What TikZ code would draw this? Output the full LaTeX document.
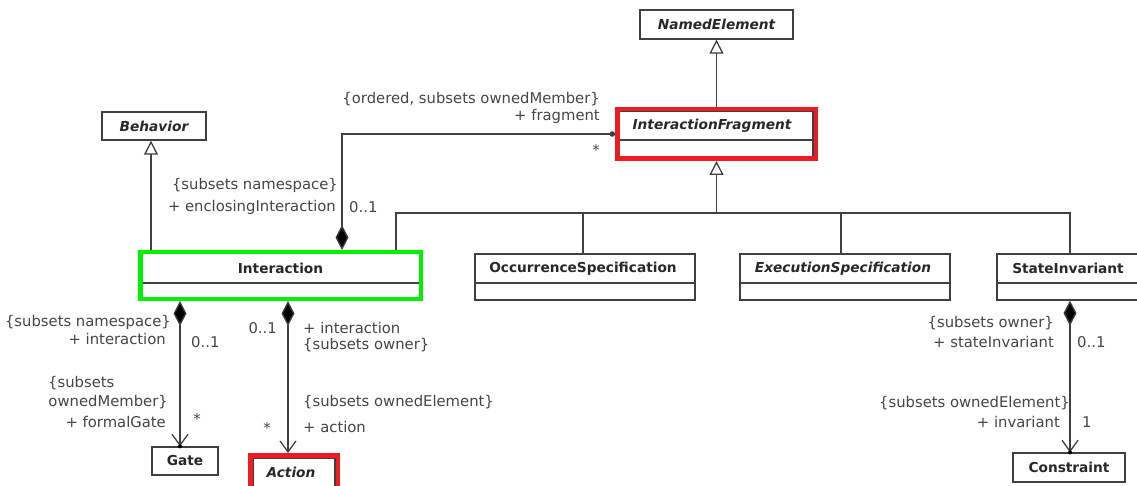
\documentclass[tikz,border=0pt]{standalone}
\usepackage{fontspec}
\setmainfont{DejaVu Sans}
\usetikzlibrary{arrows.meta}
\definecolor{ln}{RGB}{64,64,64}
\definecolor{tx}{RGB}{40,40,40}
\definecolor{lt}{RGB}{70,70,70}
\definecolor{hred}{RGB}{237,28,36}
\definecolor{hgreen}{RGB}{0,240,0}
\tikzset{
  cls/.style={draw=ln, line width=1.3pt, fill=white, inner sep=0pt},
  cname/.style={font=\fontsize{13.7}{16}\selectfont\bfseries, text=tx, inner sep=0pt},
  aname/.style={cname, font=\fontsize{13.7}{16}\selectfont\bfseries\itshape},
  lbl/.style={font=\fontsize{14.8}{17}\selectfont, text=lt, inner sep=0pt},
  conn/.style={draw=ln, line width=1.3pt},
  gen/.style={conn, -{Triangle[open, width=14pt, length=14pt, fill=white]}},
  comp/.style={conn, {Diamond[length=25pt, width=13pt, fill=black]}-{Straight Barb[length=11pt, width=16pt]}},
  hlr/.style={draw=hred, line width=4.5pt, inner sep=0pt},
  hlg/.style={draw=hgreen, line width=4.5pt, inner sep=0pt},
  divd/.style={draw=ln, line width=1.3pt}
}
\begin{document}
\begin{tikzpicture}[x=1pt, y=-1pt]
\useasboundingbox (0,0) rectangle (1137,486);
\fill[white] (0,0) rectangle (1137,486);

% ---- class boxes ----
\node[cls, minimum width=153pt, minimum height=29pt] (named) at (716.5,24.5) {};
\node[aname] (namedn) at (716.5,24.5) {NamedElement};

\node[cls, minimum width=104pt, minimum height=28pt] (beh) at (154,126) {};
\node[aname] (behn) at (154,126) {Behavior};

\node[cls, minimum width=195pt, minimum height=46pt] (ifr) at (715.5,134) {};
\draw[divd] (ifr.west |- 0,140) -- (ifr.east |- 0,140);
\node[aname] (ifrn) at (712,126) {InteractionFragment};

\node[cls, minimum width=279pt, minimum height=45pt] (int) at (280.5,275.5) {};
\draw[divd] (int.west |- 0,283) -- (int.east |- 0,283);
\node[cname] (intn) at (280.5,268) {Interaction};

\node[cls, minimum width=220pt, minimum height=46pt] (occ) at (585,277) {};
\draw[divd] (occ.west |- 0,283) -- (occ.east |- 0,283);
\node[cname] (occn) at (583,268.5) {OccurrenceSpecification};

\node[cls, minimum width=210pt, minimum height=46pt] (exe) at (845,277) {};
\draw[divd] (exe.west |- 0,283) -- (exe.east |- 0,283);
\node[aname] (exen) at (843,268.5) {ExecutionSpecification};

\node[cls, minimum width=146pt, minimum height=46pt] (si) at (1070,277) {};
\draw[divd] (si.west |- 0,283) -- (si.east |- 0,283);
\node[cname] (sin) at (1068,268.5) {StateInvariant};

\node[cls, minimum width=66pt, minimum height=28pt] (gate) at (185,461) {};
\node[cname] (gaten) at (185,461) {Gate};

\node[cls, minimum width=82pt, minimum height=37pt] (act) at (294,476.5) {};
\node[aname] (actn) at (291,472) {Action};

\node[cls, minimum width=112pt, minimum height=29pt] (con) at (1069,467.5) {};
\node[cname] (conn) at (1069,467.5) {Constraint};

% ---- highlights ----
\node[hlr, minimum width=198.5pt, minimum height=49.5pt] (ifrHL) at (716.5,134) {};
\node[hlg, minimum width=280.5pt, minimum height=46.5pt] (intHL) at (280.5,275.5) {};
\node[hlr, minimum width=87.5pt, minimum height=34.5pt] (actHL) at (294,472.5) {};

% ---- helper coordinates ----
\coordinate (cN) at (716.5,0);
\coordinate (jt) at (716.5,213);
\coordinate (bI) at (396,213);
\coordinate (bO) at (583,213);
\coordinate (bE) at (841,213);
\coordinate (bS) at (1070,213);
\coordinate (cB) at (151,0);
\coordinate (cF) at (342,0);
\coordinate (cG) at (180,0);
\coordinate (cA) at (288,0);
\coordinate (cC) at (1070,0);

% ---- generalizations ----
\draw[gen] (cN |- ifrHL.north) -- (cN |- named.south);
\draw[gen] (jt) -- (cN |- ifrHL.south);
\draw[conn] (bI |- intHL.north) -- (bI) -- (bS) -- (bS |- si.north);
\draw[conn] (bO) -- (bO |- occ.north);
\draw[conn] (bE) -- (bE |- exe.north);
\draw[gen] (cB |- intHL.north) -- (cB |- beh.south);

% ---- compositions ----
\coordinate (fr) at (ifrHL.west);
\draw[conn, {Diamond[length=25pt, width=13pt, fill=black]}-{Circle[length=5.5pt]}]
  (cF |- intHL.north) |- (fr);
\draw[comp] (cG |- intHL.south) -- (cG |- gate.north);
\fill[black] (cG |- gate.north) circle (2pt);
\draw[comp] (cA |- intHL.south) -- (cA |- actHL.north);
\draw[comp] (cC |- si.south) -- (cC |- con.north);
\fill[black] (cC |- con.north) circle (2pt);

% ---- labels ----
\node[lbl, anchor=east] (l1) at (600,99) {\{ordered, subsets ownedMember\}};
\node[lbl, anchor=east] (l2) at (600,116) {+ fragment};
\node[lbl] (l3) at (596,150) {*};

\node[lbl, anchor=east] (l4) at (338,185) {\{subsets namespace\}};
\node[lbl, anchor=east] (l5) at (336,207) {+ enclosingInteraction};
\node[lbl, anchor=west] (l6) at (349,207) {0..1};

\node[lbl, anchor=east] (l7) at (171,322) {\{subsets namespace\}};
\node[lbl, anchor=east] (l8) at (166,339) {+ interaction};
\node[lbl, anchor=west] (l9) at (191,342) {0..1};
\node[lbl, anchor=west] (l10) at (48,383) {\{subsets};
\node[lbl, anchor=east] (l11) at (168,402) {ownedMember\}};
\node[lbl, anchor=east] (l12) at (166,422) {+ formalGate};
\node[lbl] (l13) at (197,419) {*};

\node[lbl, anchor=east] (l14) at (277,328) {0..1};
\node[lbl, anchor=west] (l15) at (303,328) {+ interaction};
\node[lbl, anchor=west] (l16) at (303,345) {\{subsets owner\}};
\node[lbl, anchor=west] (l17) at (303,402) {\{subsets ownedElement\}};
\node[lbl, anchor=west] (l18) at (303,427) {+ action};
\node[lbl] (l19) at (267,428) {*};

\node[lbl, anchor=east] (l20) at (1054,323) {\{subsets owner\}};
\node[lbl, anchor=east] (l21) at (1054,342) {+ stateInvariant};
\node[lbl, anchor=west] (l22) at (1077,342) {0..1};
\node[lbl, anchor=east] (l23) at (1070,403) {\{subsets ownedElement\}};
\node[lbl, anchor=east] (l24) at (1060,422) {+ invariant};
\node[lbl, anchor=west] (l25) at (1082,422) {1};
\end{tikzpicture}
\end{document}
